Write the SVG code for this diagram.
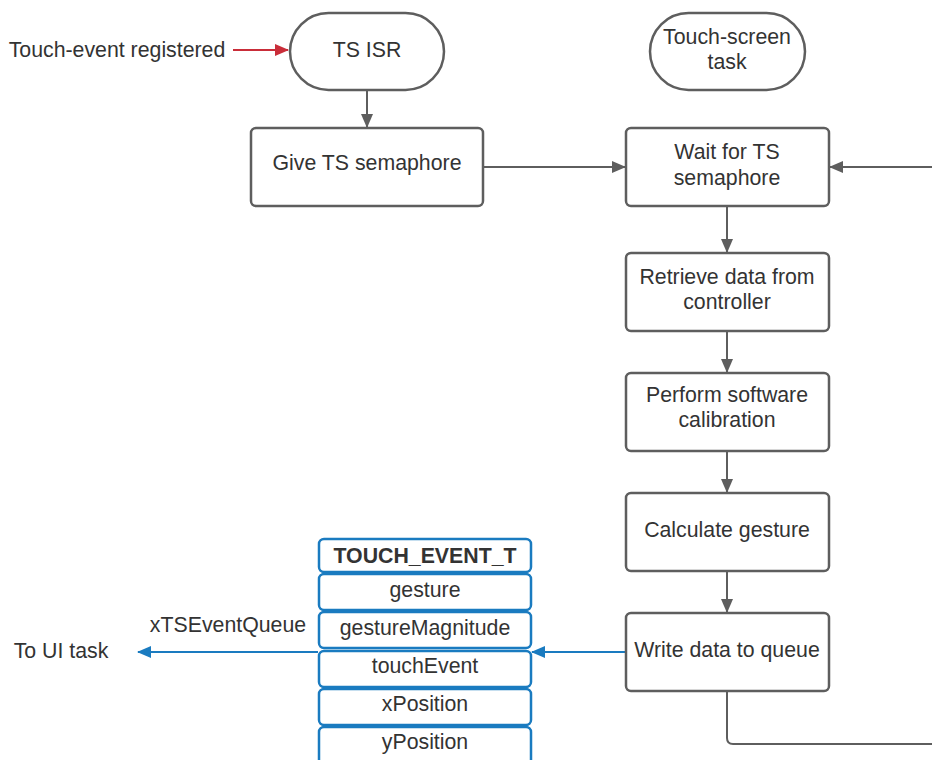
<svg xmlns="http://www.w3.org/2000/svg" width="932" height="760" viewBox="0 0 932 760">
  <style>
    .shape { fill: #ffffff; stroke: #5e5e5e; stroke-width: 2.5; }
    .field { fill: #ffffff; stroke: #1a7bc0; stroke-width: 2.5; }
    .label { font-family: "Liberation Sans", Arial, sans-serif; font-size: 21.3px; fill: #333333; text-anchor: middle; dominant-baseline: central; }
    .bold { font-weight: bold; }
    .flow { fill: none; stroke: #5e5e5e; stroke-width: 2; }
    .red { fill: none; stroke: #c92d39; stroke-width: 2; }
    .blue { fill: none; stroke: #1a7bc0; stroke-width: 2; }
  </style>
  <defs>
    <marker id="arrGray" markerWidth="14" markerHeight="12" refX="13" refY="6" orient="auto" markerUnits="userSpaceOnUse">
      <path d="M0,0 L14,6 L0,12 Z" fill="#5e5e5e"/>
    </marker>
    <marker id="arrRed" markerWidth="14" markerHeight="12" refX="13" refY="6" orient="auto" markerUnits="userSpaceOnUse">
      <path d="M0,0 L14,6 L0,12 Z" fill="#c92d39"/>
    </marker>
    <marker id="arrBlue" markerWidth="14" markerHeight="12" refX="13" refY="6" orient="auto" markerUnits="userSpaceOnUse">
      <path d="M0,0 L14,6 L0,12 Z" fill="#1a7bc0"/>
    </marker>
  </defs>

  <rect width="932" height="760" fill="#ffffff"/>

  <!-- connectors -->
  <g id="connectors">
    <path class="red" d="M233,50 L288,50" marker-end="url(#arrRed)"/>
    <path class="flow" d="M367,91 L367,127" marker-end="url(#arrGray)"/>
    <path class="flow" d="M484,167 L625,167" marker-end="url(#arrGray)"/>
    <path class="flow" d="M932,167 L830,167" marker-end="url(#arrGray)"/>
    <path class="flow" d="M727,207 L727,252" marker-end="url(#arrGray)"/>
    <path class="flow" d="M727,332 L727,372" marker-end="url(#arrGray)"/>
    <path class="flow" d="M727,452 L727,492" marker-end="url(#arrGray)"/>
    <path class="flow" d="M727,572 L727,612" marker-end="url(#arrGray)"/>
    <path class="flow" d="M727,692 L727,738 Q727,744 733,744 L932,744"/>
    <path class="blue" d="M625,652 L532,652" marker-end="url(#arrBlue)"/>
    <path class="blue" d="M318,652 L138,652" marker-end="url(#arrBlue)"/>
  </g>

  <!-- free labels -->
  <g id="labels">
    <text class="label" x="117" y="50">Touch-event registered</text>
    <text class="label" x="228" y="625">xTSEventQueue</text>
    <text class="label" x="61" y="651">To UI task</text>
  </g>

  <g id="ts-isr">
    <rect class="shape" x="290" y="13" width="154" height="77" rx="38.5"/>
    <text class="label" x="367" y="50">TS ISR</text>
  </g>

  <g id="touch-screen-task">
    <rect class="shape" x="650" y="13" width="155" height="77" rx="38.5"/>
    <text class="label" x="727" y="37">Touch-screen</text>
    <text class="label" x="727" y="62">task</text>
  </g>

  <g id="give-semaphore">
    <rect class="shape" x="251" y="128" width="232" height="78" rx="5"/>
    <text class="label" x="367" y="163">Give TS semaphore</text>
  </g>

  <g id="wait-semaphore">
    <rect class="shape" x="626" y="128" width="203" height="78" rx="5"/>
    <text class="label" x="727" y="152">Wait for TS</text>
    <text class="label" x="727" y="178">semaphore</text>
  </g>

  <g id="retrieve-data">
    <rect class="shape" x="626" y="253" width="203" height="78" rx="5"/>
    <text class="label" x="727" y="277">Retrieve data from</text>
    <text class="label" x="727" y="302">controller</text>
  </g>

  <g id="calibration">
    <rect class="shape" x="626" y="373" width="203" height="78" rx="5"/>
    <text class="label" x="727" y="395">Perform software</text>
    <text class="label" x="727" y="420">calibration</text>
  </g>

  <g id="calculate-gesture">
    <rect class="shape" x="626" y="493" width="203" height="78" rx="5"/>
    <text class="label" x="727" y="530">Calculate gesture</text>
  </g>

  <g id="write-queue">
    <rect class="shape" x="626" y="613" width="203" height="78" rx="5"/>
    <text class="label" x="727" y="650">Write data to queue</text>
  </g>

  <g id="touch-event-struct">
    <rect class="field" x="319" y="539" width="212" height="33" rx="5"/>
    <text class="label bold" x="425" y="556">TOUCH_EVENT_T</text>
    <rect class="field" x="319" y="574" width="212" height="36" rx="5"/>
    <text class="label" x="425" y="590">gesture</text>
    <rect class="field" x="319" y="612" width="212" height="36" rx="5"/>
    <text class="label" x="425" y="628">gestureMagnitude</text>
    <rect class="field" x="319" y="651" width="212" height="36" rx="5"/>
    <text class="label" x="425" y="666">touchEvent</text>
    <rect class="field" x="319" y="689" width="212" height="36" rx="5"/>
    <text class="label" x="425" y="704">xPosition</text>
    <rect class="field" x="319" y="727" width="212" height="40" rx="5"/>
    <text class="label" x="425" y="742">yPosition</text>
  </g>
</svg>
